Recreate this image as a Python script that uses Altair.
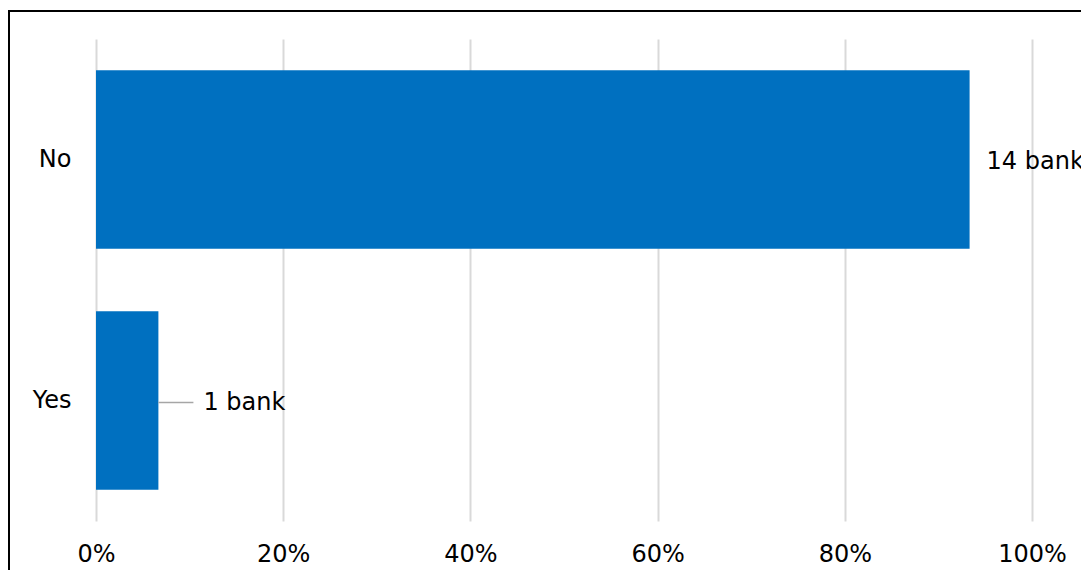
import altair as alt
import pandas as pd

categories = ["No", "Yes"]
counts = [14, 1]
labels = ["14 banks", "1 bank"]
tick_values = [0, 0.2, 0.4, 0.6, 0.8, 1.0]

total = sum(counts)
df = pd.DataFrame({
    "answer": categories,
    "count": counts,
    "share": [c / total for c in counts],
    "label": labels,
})

FONT = "DejaVu Sans"
FS = 24

base = alt.Chart(df)

y_enc = alt.Y("answer:N", sort=categories,
              scale=alt.Scale(paddingInner=0.26, paddingOuter=0.13),
              axis=alt.Axis(title=None, domain=False, ticks=False, grid=False,
                            labelFontSize=FS, labelFont=FONT, labelColor="black",
                            labelPadding=25))
x_enc = alt.X("share:Q", scale=alt.Scale(domain=[0, 1], nice=False),
              axis=alt.Axis(title=None, format=".0%", values=tick_values,
                            domain=False, ticks=False, grid=True,
                            gridColor="#d9d9d9", gridWidth=2, labelFlush=False,
                            labelFontSize=FS, labelFont=FONT, labelColor="black",
                            labelPadding=21))

bars = base.mark_bar(color="#0070C0").encode(x=x_enc, y=y_enc)

text_no = base.transform_filter(alt.datum.answer == "No").mark_text(
    align="left", baseline="middle", dx=17, dy=2, font=FONT, fontSize=FS, color="black"
).encode(x="share:Q", y=alt.Y("answer:N", sort=categories), text="label:N")

text_yes = base.transform_filter(alt.datum.answer == "Yes").mark_text(
    align="left", baseline="middle", dx=45, dy=2, font=FONT, fontSize=FS, color="black"
).encode(x="share:Q", y=alt.Y("answer:N", sort=categories), text="label:N")

leader = base.transform_filter(alt.datum.answer == "Yes").mark_rule(
    color="#a6a6a6", strokeWidth=1.5, x2Offset=35, yOffset=2, y2Offset=2
).encode(x="share:Q", x2="share:Q", y=alt.Y("answer:N", sort=categories))

frame = alt.Chart(pd.DataFrame({"f": [0]})).mark_rect(
    filled=False, stroke="black", strokeWidth=2
).encode(x=alt.value(-87), x2=alt.value(1100), y=alt.value(-28), y2=alt.value(600))

chart = alt.layer(bars, leader, text_no, text_yes, frame).properties(
    width=936, height=482,
    background="white",
    autosize=alt.AutoSizeParams(type="none"),
    padding={"left": 88, "top": 31, "right": 49, "bottom": 49},
).configure_view(strokeWidth=0, stroke=None)

chart.save("out.html", embed_options={"renderer": "svg", "actions": False})
